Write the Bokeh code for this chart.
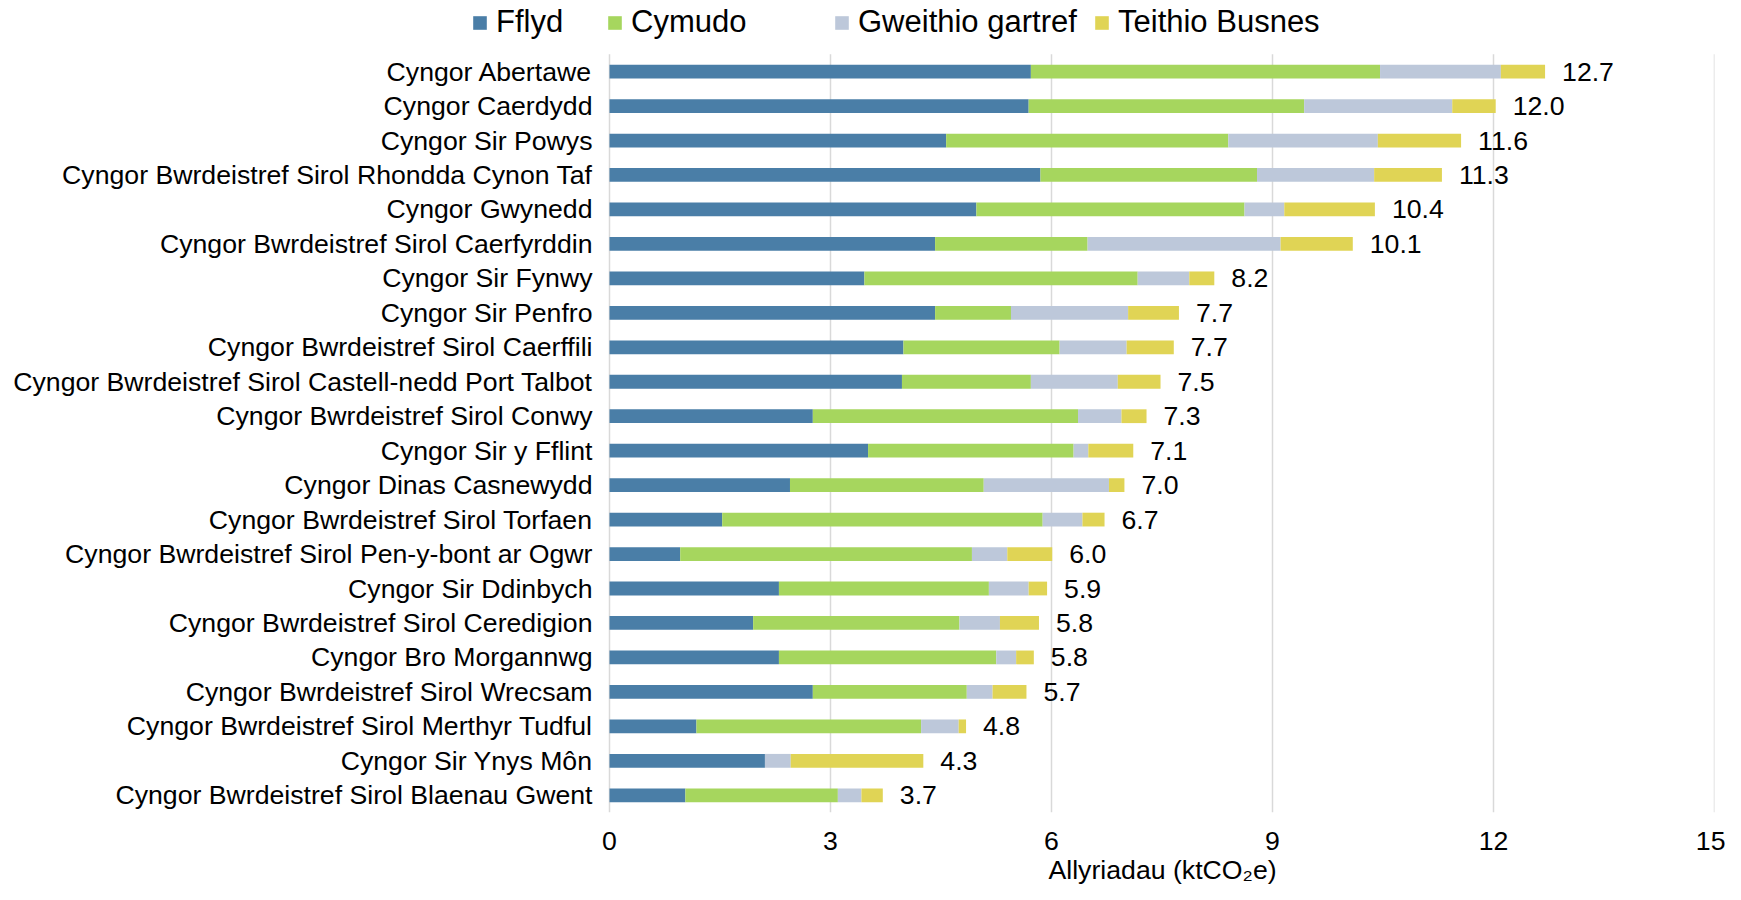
from bokeh.plotting import figure
from bokeh.models import ColumnDataSource, Range1d, Legend, LegendItem, FixedTicker, Title
from bokeh.embed import file_html
from bokeh.resources import INLINE
from bokeh.core.properties import value

councils = [
    "Cyngor Abertawe",
    "Cyngor Caerdydd",
    "Cyngor Sir Powys",
    "Cyngor Bwrdeistref Sirol Rhondda Cynon Taf",
    "Cyngor Gwynedd",
    "Cyngor Bwrdeistref Sirol Caerfyrddin",
    "Cyngor Sir Fynwy",
    "Cyngor Sir Penfro",
    "Cyngor Bwrdeistref Sirol Caerffili",
    "Cyngor Bwrdeistref Sirol Castell-nedd Port Talbot",
    "Cyngor Bwrdeistref Sirol Conwy",
    "Cyngor Sir y Fflint",
    "Cyngor Dinas Casnewydd",
    "Cyngor Bwrdeistref Sirol Torfaen",
    "Cyngor Bwrdeistref Sirol Pen-y-bont ar Ogwr",
    "Cyngor Sir Ddinbych",
    "Cyngor Bwrdeistref Sirol Ceredigion",
    "Cyngor Bro Morgannwg",
    "Cyngor Bwrdeistref Sirol Wrecsam",
    "Cyngor Bwrdeistref Sirol Merthyr Tudful",
    "Cyngor Sir Ynys Môn",
    "Cyngor Bwrdeistref Sirol Blaenau Gwent",
]

fflyd = [5.72, 5.69, 4.57, 5.85, 4.98, 4.42, 3.46, 4.42, 3.99, 3.97, 2.76,
         3.51, 2.45, 1.53, 0.96, 2.30, 1.95, 2.30, 2.76, 1.18, 2.11, 1.03]
cymudo = [4.74, 3.74, 3.83, 2.94, 3.64, 2.07, 3.71, 1.03, 2.12, 1.75, 3.60,
          2.79, 2.63, 4.35, 3.96, 2.85, 2.80, 2.95, 2.09, 3.05, 0.00, 2.07]
gweithio = [1.64, 2.01, 2.03, 1.59, 0.54, 2.62, 0.70, 1.59, 0.91, 1.18, 0.59,
            0.20, 1.70, 0.54, 0.48, 0.54, 0.55, 0.27, 0.35, 0.51, 0.35, 0.32]
teithio = [0.60, 0.59, 1.13, 0.92, 1.23, 0.98, 0.34, 0.69, 0.64, 0.58, 0.34,
           0.61, 0.21, 0.30, 0.61, 0.25, 0.53, 0.24, 0.46, 0.10, 1.80, 0.29]
total_labels = ["12.7", "12.0", "11.6", "11.3", "10.4", "10.1", "8.2", "7.7", "7.7",
                "7.5", "7.3", "7.1", "7.0", "6.7", "6.0", "5.9", "5.8", "5.8", "5.7",
                "4.8", "4.3", "3.7"]

series_names = ["Fflyd", "Cymudo", "Gweithio gartref", "Teithio Busnes"]
series_keys = ["fflyd", "cymudo", "gweithio", "teithio"]
colors = ["#4A7EA7", "#A6D65E", "#BDC8DA", "#E0D455"]
x_ticks = [0, 3, 6, 9, 12, 15]
x_max = 15
x_title = "Allyriadau (ktCO\u2082e)"

FONT = "Liberation Sans"
W, H = 1725, 884
ZERO_X, FRAME_RIGHT = 609, 1714       # pixel columns of value 0 and of the right edge
ROWS_TOP, FRAME_BOTTOM = 54, 814      # pixel rows spanned by the category rows
TITLE_LEFT = 1048                     # left edge of the x-axis title
GRID = "#D9D9D9"

n = len(councils)
ypos = [n - 1 - i for i in range(n)]          # first council at the top
ends = [a + b + c + d for a, b, c, d in zip(fflyd, cymudo, gweithio, teithio)]
zeros = [0] * n
src = ColumnDataSource(dict(y=ypos, council=councils, fflyd=fflyd, cymudo=cymudo,
                            gweithio=gweithio, teithio=teithio, end=ends,
                            zero=zeros, label=total_labels))

# the frame spans the whole width and height above the axis, so the
# category names and the legend live inside it
px_per_unit = (FRAME_RIGHT - ZERO_X) / x_max
x_left = -ZERO_X / px_per_unit
row_px = (FRAME_BOTTOM - ROWS_TOP) / n
y_top = (n - 0.5) + ROWS_TOP / row_px

p = figure(width=W, height=H,
           x_range=Range1d(x_left, x_max), y_range=Range1d(-0.5, y_top),
           output_backend="svg", toolbar_location=None,
           y_axis_location=None,
           min_border_left=0, min_border_right=W - FRAME_RIGHT,
           min_border_top=0, min_border_bottom=H - FRAME_BOTTOM)
p.outline_line_color = None
p.grid.visible = False

# vertical gridlines across the rows (the one at 0 doubles as the axis line)
p.segment(x0=x_ticks, x1=x_ticks, y0=[-0.5] * len(x_ticks), y1=[n - 0.5] * len(x_ticks),
          line_color=GRID, line_width=1.5)

renderers = p.hbar_stack(series_keys, y="y", height=0.4, color=colors,
                         source=src, line_width=0)

# category names
p.text(x="zero", y="y", text="council", source=src, x_offset=-17,
       text_align="right", text_baseline="middle", text_color="black",
       text_font=value(FONT), text_font_size="26.67px")

# totals
p.text(x="end", y="y", text="label", source=src, x_offset=17,
       text_align="left", text_baseline="middle", text_color="black",
       text_font=value(FONT), text_font_size="26.67px")

p.xaxis.bounds = (0, x_max)
p.xaxis.ticker = FixedTicker(ticks=x_ticks)
p.xaxis.axis_line_color = None
p.xaxis.major_tick_line_color = None
p.xaxis.minor_tick_line_color = None
p.xaxis.major_tick_out = 0
p.xaxis.major_tick_in = 0
p.xaxis.major_label_standoff = 19
p.xaxis.major_label_text_font = FONT
p.xaxis.major_label_text_font_size = "26.67px"
p.xaxis.major_label_text_color = "black"

# x-axis title, centred under the 0-15 scale
p.add_layout(Title(text=x_title, align="left", offset=TITLE_LEFT, standoff=0,
                   text_font=FONT, text_font_size="26.67px",
                   text_font_style="normal", text_color="black"), "below")

legend_x = [471, 606, 833, 1093]
for r, name, lx in zip(renderers, series_names, legend_x):
    lg = Legend(items=[LegendItem(label=name, renderers=[r])],
                location=(lx, FRAME_BOTTOM - 42),
                orientation="horizontal",
                glyph_width=17, glyph_height=17, label_standoff=8, label_height=17,
                padding=0, margin=0, spacing=0,
                border_line_color=None, background_fill_alpha=0,
                label_text_font=FONT, label_text_font_size="31px",
                label_text_color="black")
    p.add_layout(lg)

open("out.html", "w").write(file_html(p, INLINE))
